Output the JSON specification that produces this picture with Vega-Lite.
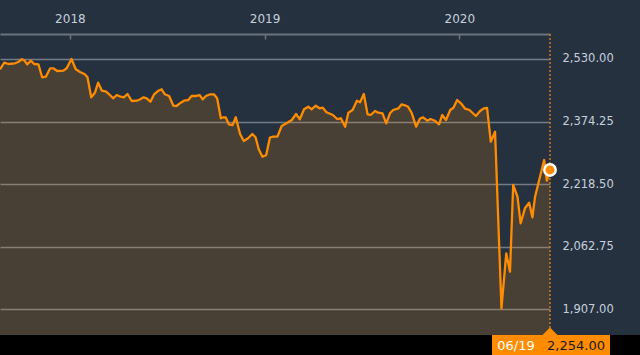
{
  "$schema": "https://vega.github.io/schema/vega-lite/v6.json",
  "width": 550,
  "height": 301,
  "autosize": {"type": "none"},
  "padding": {"left": 0, "top": 34, "right": 90, "bottom": 20},
  "background": "#263140",
  "config": {"view": {"stroke": null}, "font": "DejaVu Sans"},
  "datasets": {
    "series": [
      {"d":"2017-08-23","v":2504.4},{"d":"2017-08-31","v":2520.8},{"d":"2017-09-08","v":2517.6},{"d":"2017-09-20","v":2519.3},
      {"d":"2017-09-26","v":2522.5},{"d":"2017-10-03","v":2529.3},{"d":"2017-10-07","v":2527.5},{"d":"2017-10-13","v":2516.8},
      {"d":"2017-10-20","v":2525.8},{"d":"2017-10-26","v":2517.6},{"d":"2017-11-03","v":2516.8},{"d":"2017-11-10","v":2484.5},
      {"d":"2017-11-17","v":2486},{"d":"2017-11-25","v":2506.9},{"d":"2017-12-01","v":2506.9},{"d":"2017-12-08","v":2500.1},
      {"d":"2017-12-20","v":2500.9},{"d":"2017-12-26","v":2506.9},{"d":"2018-01-04","v":2530},{"d":"2018-01-12","v":2504.4},
      {"d":"2018-01-20","v":2497.7},{"d":"2018-01-29","v":2491.9},{"d":"2018-02-03","v":2484.5},{"d":"2018-02-10","v":2434.7},
      {"d":"2018-02-17","v":2446.2},{"d":"2018-02-23","v":2471},{"d":"2018-03-02","v":2451.1},{"d":"2018-03-10","v":2448.6},
      {"d":"2018-03-17","v":2440.4},{"d":"2018-03-23","v":2432.2},{"d":"2018-03-30","v":2440.4},{"d":"2018-04-06","v":2436.2},
      {"d":"2018-04-12","v":2434.7},{"d":"2018-04-19","v":2442.9},{"d":"2018-04-27","v":2425.5},{"d":"2018-05-06","v":2426.2},
      {"d":"2018-05-12","v":2429.2},{"d":"2018-05-19","v":2434.7},{"d":"2018-05-25","v":2432.2},{"d":"2018-06-01","v":2423.8},
      {"d":"2018-06-08","v":2442.2},{"d":"2018-06-16","v":2451.1},{"d":"2018-06-22","v":2454.6},{"d":"2018-06-28","v":2442.2},
      {"d":"2018-07-06","v":2437.9},{"d":"2018-07-14","v":2413.8},{"d":"2018-07-20","v":2413.1},{"d":"2018-07-28","v":2421.3},
      {"d":"2018-08-03","v":2426.2},{"d":"2018-08-11","v":2428},{"d":"2018-08-17","v":2437.9},{"d":"2018-08-24","v":2437.9},
      {"d":"2018-09-01","v":2440.4},{"d":"2018-09-07","v":2429.7},{"d":"2018-09-13","v":2437.9},{"d":"2018-09-21","v":2442.2},
      {"d":"2018-09-28","v":2442.2},{"d":"2018-10-04","v":2432.2},{"d":"2018-10-11","v":2382.5},{"d":"2018-10-16","v":2385},
      {"d":"2018-10-20","v":2385},{"d":"2018-10-26","v":2367.5},{"d":"2018-11-02","v":2365.8},{"d":"2018-11-08","v":2385},
      {"d":"2018-11-16","v":2343.4},{"d":"2018-11-23","v":2326},{"d":"2018-12-01","v":2332.7},{"d":"2018-12-09","v":2343.4},
      {"d":"2018-12-15","v":2335.2},{"d":"2018-12-21","v":2305.3},{"d":"2018-12-28","v":2286.9},{"d":"2019-01-04","v":2291.2},
      {"d":"2019-01-11","v":2334.7},{"d":"2019-01-17","v":2336.7},{"d":"2019-01-25","v":2336.7},{"d":"2019-02-02","v":2363.3},
      {"d":"2019-02-11","v":2370},{"d":"2019-02-21","v":2378.2},{"d":"2019-03-01","v":2393.2},{"d":"2019-03-08","v":2380},
      {"d":"2019-03-16","v":2404.9},{"d":"2019-03-24","v":2411.3},{"d":"2019-03-30","v":2404.9},{"d":"2019-04-07","v":2413.8},
      {"d":"2019-04-14","v":2407.3},{"d":"2019-04-20","v":2408.8},{"d":"2019-04-27","v":2397.4},{"d":"2019-05-09","v":2390.7},
      {"d":"2019-05-17","v":2380.7},{"d":"2019-05-24","v":2382.5},{"d":"2019-06-01","v":2361.6},{"d":"2019-06-07","v":2396.4},
      {"d":"2019-06-15","v":2403.1},{"d":"2019-06-23","v":2426.2},{"d":"2019-06-29","v":2422.3},{"d":"2019-07-06","v":2442.9},
      {"d":"2019-07-13","v":2392.4},{"d":"2019-07-19","v":2390.7},{"d":"2019-07-27","v":2400.6},{"d":"2019-08-02","v":2396.4},
      {"d":"2019-08-10","v":2394.9},{"d":"2019-08-17","v":2370},{"d":"2019-08-24","v":2394.9},{"d":"2019-08-30","v":2403.1},
      {"d":"2019-09-09","v":2407.3},{"d":"2019-09-15","v":2417.3},{"d":"2019-09-21","v":2414.8},{"d":"2019-09-27","v":2411.3},
      {"d":"2019-10-04","v":2394.9},{"d":"2019-10-12","v":2361.6},{"d":"2019-10-19","v":2381.5},{"d":"2019-10-25","v":2385},
      {"d":"2019-11-02","v":2376.5},{"d":"2019-11-08","v":2380.7},{"d":"2019-11-16","v":2376.5},{"d":"2019-11-24","v":2367.5},
      {"d":"2019-11-30","v":2390.7},{"d":"2019-12-07","v":2378.2},{"d":"2019-12-15","v":2403.1},{"d":"2019-12-21","v":2408.8},
      {"d":"2019-12-28","v":2428},{"d":"2020-01-04","v":2419.8},{"d":"2020-01-12","v":2406.3},{"d":"2020-01-20","v":2403.1},
      {"d":"2020-02-01","v":2388.2},{"d":"2020-02-09","v":2400.6},{"d":"2020-02-16","v":2407.3},{"d":"2020-02-22","v":2408.1},
      {"d":"2020-02-29","v":2324.2},{"d":"2020-03-08","v":2349.1},{"d":"2020-03-20","v":1909.7},{"d":"2020-03-29","v":2046.6},
      {"d":"2020-04-05","v":2000.8},{"d":"2020-04-11","v":2216.5},{"d":"2020-04-19","v":2187.4},{"d":"2020-04-25","v":2121.2},
      {"d":"2020-05-03","v":2158.5},{"d":"2020-05-11","v":2172.5},{"d":"2020-05-17","v":2136.2},{"d":"2020-05-22","v":2187.4},
      {"d":"2020-06-08","v":2278.7},{"d":"2020-06-13","v":2227.2},{"d":"2020-06-19","v":2254}
    ],
    "last": [{"d":"2020-06-19","v":2254,"day":"06/19","label":"2,254.00"}],
    "footer": [{"start":"2017-07-01","end":"2021-03-01","lo":1780,"hi":1843.3}]
  },
  "layer": [
    {
      "data": {"name": "series"},
      "mark": {"type": "area", "color": "#ff8c00", "opacity": 0.16},
      "encoding": {
        "x": {"field": "d", "type": "temporal"},
        "y": {"field": "v", "type": "quantitative"},
        "y2": {"datum": 1843.3}
      }
    },
    {
      "data": {"name": "series"},
      "mark": {"type": "line", "color": "#ff8c00", "strokeWidth": 2.3, "strokeJoin": "round"},
      "encoding": {
        "x": {"field": "d", "type": "temporal",
          "scale": {"type": "utc", "domain": [{"year":2017,"month":8,"date":23,"utc":true},{"year":2020,"month":6,"date":19,"utc":true}]},
          "axis": {
          "orient": "top", "title": null, "grid": false,
          "values": [{"year":2018,"month":1,"date":1,"utc":true},{"year":2019,"month":1,"date":1,"utc":true},{"year":2020,"month":1,"date":1,"utc":true}],
          "format": "%Y", "domainColor": "#6b737d", "domainWidth": 2,
          "tickColor": "#6b737d", "tickSize": -5, "tickWidth": 1.5,
          "labelColor": "#c5d0dc", "labelFontSize": 12, "labelPadding": 14, "labelFont": "DejaVu Sans"
        }},
        "y": {"field": "v", "type": "quantitative",
          "scale": {"domain": [1843.3, 2592.2], "nice": false, "zero": false},
          "axis": {
          "orient": "right", "title": null,
          "values": [1907, 2062.75, 2218.5, 2374.25, 2530], "format": ",.2f",
          "grid": true, "gridColor": "#737b85", "gridWidth": 1.5,
          "domain": false, "ticks": false, "labelPadding": 12,
          "labelColor": "#c5d0dc", "labelFontSize": 11.5, "labelFont": "DejaVu Sans"
        }}
      }
    },
    {
      "data": {"name": "footer"},
      "mark": {"type": "rect", "color": "#000000"},
      "encoding": {
        "x": {"field": "start", "type": "temporal"},
        "x2": {"field": "end"},
        "y": {"field": "hi", "type": "quantitative"},
        "y2": {"field": "lo"}
      }
    },
    {
      "data": {"name": "last"},
      "mark": {"type": "rule", "color": "#d9740c", "strokeWidth": 1.5, "strokeDash": [2, 2]},
      "encoding": {
        "x": {"field": "d", "type": "temporal"},
        "y": {"datum": 2592.2},
        "y2": {"datum": 1843.3}
      }
    },
    {
      "data": {"name": "last"},
      "mark": {"type": "rect", "color": "#ff8c00", "xOffset": -58, "x2Offset": 60},
      "encoding": {
        "x": {"field": "d", "type": "temporal"},
        "x2": {"field": "d"},
        "y": {"datum": 1843.3},
        "y2": {"datum": 1780}
      }
    },
    {
      "data": {"name": "last"},
      "mark": {"type": "point", "shape": "M-1,0L0,-1L1,0Z", "filled": true, "color": "#ff8c00", "size": 225, "opacity": 1},
      "encoding": {
        "x": {"field": "d", "type": "temporal"},
        "y": {"datum": 1843.3}
      }
    },
    {
      "data": {"name": "last"},
      "mark": {"type": "text", "color": "#ffffff", "fontSize": 13, "font": "DejaVu Sans", "align": "center", "baseline": "middle", "xOffset": -34, "yOffset": 11},
      "encoding": {
        "x": {"field": "d", "type": "temporal"},
        "y": {"datum": 1843.3},
        "text": {"field": "day"}
      }
    },
    {
      "data": {"name": "last"},
      "mark": {"type": "text", "color": "#1a1a1a", "fontSize": 13, "font": "DejaVu Sans", "align": "center", "baseline": "middle", "xOffset": 26, "yOffset": 11},
      "encoding": {
        "x": {"field": "d", "type": "temporal"},
        "y": {"datum": 1843.3},
        "text": {"field": "label"}
      }
    },
    {
      "data": {"name": "last"},
      "mark": {"type": "point", "filled": true, "color": "#ff8c00", "stroke": "#ffffff", "strokeWidth": 2.5, "size": 130, "opacity": 1},
      "encoding": {
        "x": {"field": "d", "type": "temporal"},
        "y": {"field": "v", "type": "quantitative"}
      }
    }
  ]
}
